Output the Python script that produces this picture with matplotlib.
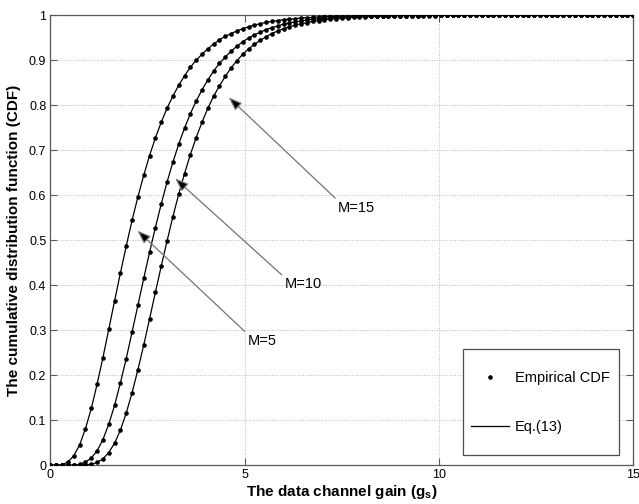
import numpy as np
import matplotlib
matplotlib.use('Agg')
import matplotlib.pyplot as plt
from matplotlib.lines import Line2D
from matplotlib.patches import Rectangle

plt.rcParams['font.family'] = ['Liberation Sans', 'DejaVu Sans']
plt.rcParams['mathtext.fontset'] = 'custom'
plt.rcParams['mathtext.rm'] = 'Liberation Sans'
plt.rcParams['mathtext.bf'] = 'Liberation Sans:bold'

# channel gain grid (101 samples from 0 to 15)
gain = np.linspace(0, 15, 101)

# CDF values, one per grid point
cdf_m5 = [
    0.000, 0.000, 0.001, 0.007, 0.021, 0.045, 0.081, 0.126, 0.180, 0.239,
    0.302, 0.365, 0.427, 0.487, 0.544, 0.596, 0.644, 0.688, 0.727, 0.762,
    0.793, 0.820, 0.844, 0.865, 0.884, 0.900, 0.913, 0.925, 0.936, 0.945,
    0.953, 0.959, 0.965, 0.970, 0.974, 0.978, 0.981, 0.984, 0.986, 0.988,
    0.990, 0.991, 0.992, 0.994, 0.994, 0.995, 0.996, 0.997, 0.997, 0.997,
    0.998, 0.998, 0.998, 0.999, 0.999, 0.999, 0.999, 0.999, 0.999, 1.000,
    1.000, 1.000, 1.000, 1.000, 1.000, 1.000, 1.000, 1.000, 1.000, 1.000,
    1.000, 1.000, 1.000, 1.000, 1.000, 1.000, 1.000, 1.000, 1.000, 1.000,
    1.000, 1.000, 1.000, 1.000, 1.000, 1.000, 1.000, 1.000, 1.000, 1.000,
    1.000, 1.000, 1.000, 1.000, 1.000, 1.000, 1.000, 1.000, 1.000, 1.000,
    1.000,
]
cdf_m10 = [
    0.000, 0.000, 0.000, 0.000, 0.000, 0.002, 0.007, 0.016, 0.032, 0.057,
    0.091, 0.133, 0.183, 0.237, 0.296, 0.355, 0.415, 0.473, 0.528, 0.580,
    0.629, 0.673, 0.713, 0.749, 0.781, 0.809, 0.834, 0.856, 0.876, 0.893,
    0.907, 0.920, 0.931, 0.941, 0.949, 0.956, 0.962, 0.968, 0.972, 0.976,
    0.980, 0.983, 0.985, 0.987, 0.989, 0.991, 0.992, 0.993, 0.994, 0.995,
    0.996, 0.996, 0.997, 0.997, 0.998, 0.998, 0.998, 0.999, 0.999, 0.999,
    0.999, 0.999, 0.999, 0.999, 1.000, 1.000, 1.000, 1.000, 1.000, 1.000,
    1.000, 1.000, 1.000, 1.000, 1.000, 1.000, 1.000, 1.000, 1.000, 1.000,
    1.000, 1.000, 1.000, 1.000, 1.000, 1.000, 1.000, 1.000, 1.000, 1.000,
    1.000, 1.000, 1.000, 1.000, 1.000, 1.000, 1.000, 1.000, 1.000, 1.000,
    1.000,
]
cdf_m15 = [
    0.000, 0.000, 0.000, 0.000, 0.000, 0.000, 0.001, 0.002, 0.006, 0.014,
    0.028, 0.049, 0.078, 0.116, 0.161, 0.212, 0.267, 0.325, 0.384, 0.442,
    0.498, 0.552, 0.602, 0.648, 0.690, 0.728, 0.762, 0.793, 0.820, 0.843,
    0.864, 0.883, 0.899, 0.913, 0.925, 0.935, 0.944, 0.952, 0.959, 0.965,
    0.970, 0.974, 0.978, 0.981, 0.983, 0.986, 0.988, 0.990, 0.991, 0.992,
    0.993, 0.994, 0.995, 0.996, 0.996, 0.997, 0.997, 0.998, 0.998, 0.998,
    0.999, 0.999, 0.999, 0.999, 0.999, 0.999, 0.999, 1.000, 1.000, 1.000,
    1.000, 1.000, 1.000, 1.000, 1.000, 1.000, 1.000, 1.000, 1.000, 1.000,
    1.000, 1.000, 1.000, 1.000, 1.000, 1.000, 1.000, 1.000, 1.000, 1.000,
    1.000, 1.000, 1.000, 1.000, 1.000, 1.000, 1.000, 1.000, 1.000, 1.000,
    1.000,
]

curve_labels = ['M=5', 'M=10', 'M=15']
# arrow tips on the curves and label positions (data coords)
arrow_tips = [(2.24, 0.521), (3.21, 0.637), (4.59, 0.817)]
label_pos = [(5.07, 0.276), (6.02, 0.402), (7.40, 0.572)]

x_ticks = [0, 5, 10, 15]
y_ticks = [0, 0.1, 0.2, 0.3, 0.4, 0.5, 0.6, 0.7, 0.8, 0.9, 1]

fig = plt.figure(figsize=(6.39, 5.04), dpi=100)
ax = fig.add_axes([0.079, 0.077, 0.912, 0.893])
ax.set_axisbelow(True)

for cdf in (cdf_m5, cdf_m10, cdf_m15):
    ax.plot(gain, cdf, color='k', lw=0.9, zorder=3)
    ax.plot(gain, cdf, ls='none', marker='o', ms=2.3, color='k', zorder=4)

for lab, tip, pos in zip(curve_labels, arrow_tips, label_pos):
    ax.annotate(lab, xy=tip, xytext=pos, ha='left', va='center', fontsize=10.5,
                arrowprops=dict(arrowstyle='-|>,head_length=0.8,head_width=0.3',
                                ec='0.45', fc='k', lw=0.9,
                                mutation_scale=10, shrinkA=0, shrinkB=0,
                                relpos=(0, 1)))

ax.set_xlim(0, 15)
ax.set_ylim(0, 1)
ax.set_xticks(x_ticks)
ax.set_yticks(y_ticks)
ax.set_xticklabels([f'{t:g}' for t in x_ticks])
ax.set_yticklabels([f'{t:g}' for t in y_ticks])
ax.tick_params(direction='in', length=5, width=0.8, color='0.35', labelsize=9,
               top=True, right=True, pad=3)
for s in ax.spines.values():
    s.set_color('0.35')
    s.set_linewidth(0.9)
ax.grid(True, ls=':', color='0.72', lw=0.7)

ax.set_xlabel(r'The data channel gain (g$_{\mathbf{s}}$)', fontsize=11, fontweight='bold', labelpad=1)
ax.set_ylabel('The cumulative distribution function (CDF)', fontsize=11, fontweight='bold', labelpad=6)

# legend box
ax.add_patch(Rectangle((0.7075, 0.022), 0.2675, 0.236, transform=ax.transAxes,
                       fc='white', ec='0.3', lw=0.9, zorder=5))
handles = [Line2D([], [], ls='none', marker='o', ms=2.3, color='k'),
           Line2D([], [], color='k', lw=0.9)]
leg = ax.legend(handles, ['Empirical CDF', 'Eq.(13)'], loc='center',
                bbox_to_anchor=(0.841, 0.140), frameon=False, fontsize=10.5,
                handlelength=2.6, handletextpad=0.4, labelspacing=2.4)
leg.set_zorder(6)

fig.savefig('out.png', dpi=100)
